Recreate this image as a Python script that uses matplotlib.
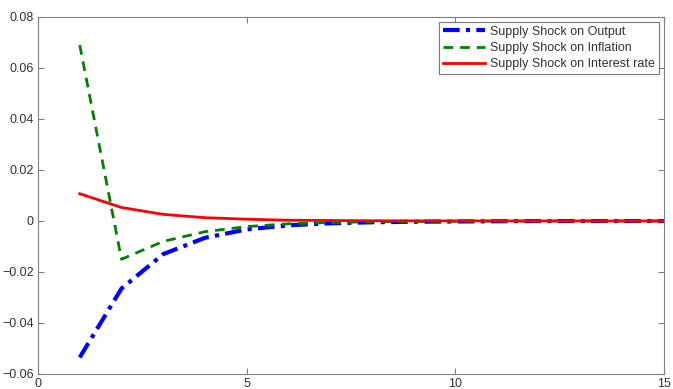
import matplotlib
matplotlib.use("Agg")
import matplotlib.pyplot as plt
import numpy as np

# impulse responses, periods 1..15
periods = np.arange(1, 16)
output = [-0.0535, -0.0265, -0.0130, -0.0066, -0.0033, -0.0017, -0.0009, -0.0005,
          -0.0003, -0.0002, -0.0001, -0.00005, -0.00003, -0.00002, -0.00001]
inflation = [0.0690, -0.0150, -0.0080, -0.0042, -0.0022, -0.0011, -0.0006, -0.0003,
             -0.0002, -0.0001, -0.00005, -0.00003, -0.00002, -0.00001, 0.0]
interest = [0.0107, 0.0053, 0.0026, 0.0013, 0.0007, 0.0003, 0.0002, 0.0001,
            0.00005, 0.00003, 0.00002, 0.00001, 0.0, 0.0, 0.0]

plt.rcParams['font.family'] = ['Liberation Sans', 'DejaVu Sans']

fig = plt.figure(figsize=(6.73, 3.89), dpi=100)
ax = fig.add_axes([38/673, 1 - 374/389, (664-38)/673, (374-17)/389])

ax.plot(periods, output, color='blue', linestyle='-.', linewidth=3, dashes=(4, 1.5, 1, 1.5),
        label='Supply Shock on Output')
ax.plot(periods, inflation, color='green', linestyle='--', linewidth=2, dashes=(3.5, 2.5),
        label='Supply Shock on Inflation')
ax.plot(periods, interest, color='red', linestyle='-', linewidth=2,
        label='Supply Shock on Interest rate')

ax.set_xlim(0, 15)
ax.set_ylim(-0.06, 0.08)
ax.set_xticks([0, 5, 10, 15])
ax.set_xticklabels(['0', '5', '10', '15'])
ax.set_yticks(np.arange(-0.06, 0.081, 0.02))
ax.set_yticklabels(['\u22120.06', '\u22120.04', '\u22120.02', '0', '0.02', '0.04', '0.06', '0.08'])

for s in ax.spines.values():
    s.set_color('#808080')
ax.tick_params(direction='in', top=True, right=True, length=4, color='#808080',
               labelsize=9, labelcolor='#333333', pad=3)

leg = ax.legend(loc='upper right', fontsize=9, frameon=True, fancybox=False,
                edgecolor='#555555', borderpad=0.3, labelspacing=0.35,
                handlelength=3.4, handletextpad=0.4, borderaxespad=0.4)
leg.get_frame().set_linewidth(0.8)
for t in leg.get_texts():
    t.set_color('#333333')

fig.savefig('out.png', dpi=100)
